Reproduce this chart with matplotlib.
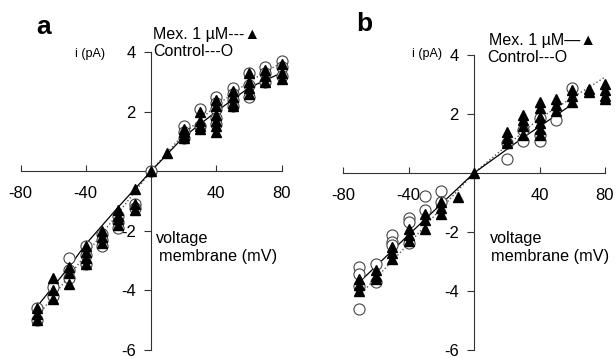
import matplotlib
matplotlib.use("Agg")
import matplotlib.pyplot as plt

plt.rcParams['font.family'] = ['Liberation Sans', 'DejaVu Sans']

# panel a
a_ctrl_v = [20, 20, 20, 30, 30, 40, 40, 40, 40, 40, 50, 50, 50, 50,
            60, 60, 60, 70, 70, 70, 80, 80, 80, 0,
            -10, -10, -20, -20, -20, -30, -30, -30, -40, -40, -40,
            -50, -50, -50, -60, -60, -70, -70]
a_ctrl_i = [1.5, 1.3, 1.1, 2.1, 1.5, 2.5, 2.3, 2.1, 1.8, 1.6, 2.8, 2.6, 2.4, 2.2,
            3.3, 2.9, 2.5, 3.5, 3.3, 3.0, 3.7, 3.5, 3.2, 0.0,
            -1.1, -1.25, -1.5, -1.7, -1.9, -2.1, -2.3, -2.5, -2.5, -2.8, -3.1,
            -2.9, -3.3, -3.6, -3.9, -4.2, -4.6, -5.0]
a_mex_v = [10, 20, 20, 20, 20, 30, 30, 30, 30, 40, 40, 40, 40, 40, 40,
           50, 50, 50, 50, 60, 60, 60, 60, 70, 70, 70, 80, 80, 80, 0,
           -10, -10, -10, -20, -20, -20, -20, -30, -30, -30,
           -40, -40, -40, -40, -50, -50, -50, -60, -60, -60, -70, -70, -70]
a_mex_i = [0.6, 1.4, 1.3, 1.2, 1.1, 2.0, 1.7, 1.5, 1.4, 2.4, 2.2, 1.9, 1.7, 1.5, 1.3,
           2.7, 2.5, 2.3, 2.2, 3.3, 3.0, 2.8, 2.6, 3.4, 3.2, 3.0, 3.6, 3.3, 3.1, 0.0,
           -0.6, -1.1, -1.3, -1.3, -1.5, -1.6, -1.8, -2.0, -2.2, -2.4,
           -2.5, -2.7, -2.9, -3.1, -3.2, -3.4, -3.8, -3.6, -4.0, -4.3, -4.6, -4.8, -5.0]
a_fit_v = [-70, -50, -40, -20, 0, 20, 40, 60, 80]
a_mex_fit = [-4.55, -3.2, -2.45, -1.2, 0.0, 1.15, 2.0, 2.8, 3.3]
a_ctrl_fit = [-4.9, -3.5, -2.8, -1.4, 0.0, 1.25, 2.2, 3.0, 3.65]

# panel b
b_ctrl_v = [20, 20, 30, 30, 40, 40, 40, 50, 60,
            -20, -20, -30, -30, -40, -40, -40, -50, -50, -50,
            -60, -60, -70, -70, -70, -70]
b_ctrl_i = [0.47, 1.0, 1.47, 1.07, 1.85, 1.3, 1.07, 1.8, 2.87,
            -0.6, -1.0, -0.77, -1.27, -1.53, -1.67, -2.37, -2.1, -2.33, -2.43,
            -3.1, -3.7, -3.2, -3.43, -3.83, -4.6]
b_mex_v = [0, 20, 20, 20, 30, 30, 30, 30, 40, 40, 40, 40, 40, 40,
           50, 50, 50, 60, 60, 60, 70, 70, 80, 80, 80, 80,
           -10, -20, -20, -20, -30, -30, -30, -40, -40, -40,
           -50, -50, -50, -60, -60, -60, -70, -70, -70]
b_mex_i = [0.0, 1.4, 1.2, 1.0, 1.95, 1.8, 1.6, 1.3, 2.4, 2.2, 1.9, 1.7, 1.5, 1.3,
           2.5, 2.3, 2.1, 2.8, 2.6, 2.4, 2.85, 2.75, 3.0, 2.8, 2.6, 2.5,
           -0.83, -1.0, -1.2, -1.4, -1.4, -1.6, -1.9, -1.9, -2.1, -2.3,
           -2.5, -2.7, -2.9, -3.3, -3.5, -3.6, -3.6, -3.8, -4.0]
b_mex_fit_v = [-70, -40, 0, 30, 60]
b_mex_fit = [-3.7, -2.1, 0.0, 1.2, 2.33]
b_ctrl_fit_v = [-70, -40, 0, 40, 80]
b_ctrl_fit = [-4.15, -2.4, 0.0, 1.85, 3.25]

W, H = 616, 358
fig = plt.figure(figsize=(W / 100, H / 100), dpi=100)


def px(x, y):
    return x / W, 1 - y / H


def panel(rect, cv, ci, mv, mi, fmv, fm, fcv, fc):
    ax = fig.add_axes(rect)
    ax.set_xlim(-80, 80)
    ax.set_ylim(-6, 4)
    for s in ['top', 'right']:
        ax.spines[s].set_visible(False)
    ax.spines['left'].set_position(('data', 0))
    ax.spines['bottom'].set_position(('data', 0))
    for s in ['left', 'bottom']:
        ax.spines[s].set_linewidth(0.8)
        ax.spines[s].set_color('#333333')
    ax.set_xticks([-80, -40, 0, 40, 80])
    ax.set_xticklabels(['-80', '-40', '', '40', '80'])
    ax.set_yticks([-6, -4, -2, 4, 2])
    ax.set_yticklabels(['-6', '-4', '-2', '4', '2'])
    ax.tick_params(axis='x', direction='in', length=4, width=0.8,
                   labelsize=12, pad=11, color='#333333')
    ax.tick_params(axis='y', direction='out', length=5, width=0.8,
                   labelsize=12, pad=6, color='#333333')
    ax.patch.set_visible(False)
    ax.plot(fcv, fc, ls=':', color='#555555', lw=1.0, zorder=2)
    ax.plot(fmv, fm, ls='-', color='black', lw=0.9, zorder=2)
    ax.plot(cv, ci, 'o', ms=8, mfc='white', mec='#444444', mew=0.8,
            zorder=3, clip_on=False)
    ax.plot(mv, mi, '^', ms=6.5, color='black', zorder=4, clip_on=False)
    return ax


panel([20.5 / W, 8 / H, 261 / W, 298 / H],
      a_ctrl_v, a_ctrl_i, a_mex_v, a_mex_i,
      a_fit_v, a_mex_fit, a_fit_v, a_ctrl_fit)
panel([343 / W, 8 / H, 262 / W, 295 / H],
      b_ctrl_v, b_ctrl_i, b_mex_v, b_mex_i,
      b_mex_fit_v, b_mex_fit, b_ctrl_fit_v, b_ctrl_fit)

# labels
fig.text(*px(36, 27), 'a', fontsize=19, fontweight='bold', va='center')
fig.text(*px(356, 24), 'b', fontsize=19, fontweight='bold', va='center')
fig.text(*px(75, 54), 'i (pA)', fontsize=9, va='center')
fig.text(*px(412, 54), 'i (pA)', fontsize=9, va='center')
fig.text(*px(153, 34), 'Mex. 1 \u00b5M---\u25b2', fontsize=11.5, va='center')
fig.text(*px(153, 52), 'Control---O', fontsize=11.5, va='center')
fig.text(*px(489, 40), 'Mex. 1 \u00b5M\u2014\u25b2', fontsize=11.5, va='center')
fig.text(*px(487, 57), 'Control---O', fontsize=11.5, va='center')
fig.text(*px(156, 238), 'voltage', fontsize=11.7, va='center')
fig.text(*px(159, 257), 'membrane (mV)', fontsize=11.7, va='center')
fig.text(*px(490, 238), 'voltage', fontsize=11.7, va='center')
fig.text(*px(491, 257), 'membrane (mV)', fontsize=11.7, va='center')

fig.savefig('out.png', dpi=100)
